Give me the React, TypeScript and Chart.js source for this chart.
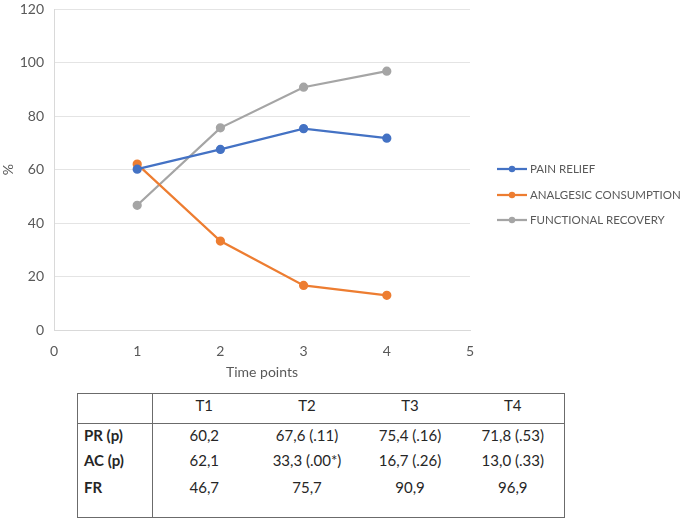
import React, { useEffect, useRef } from "react";
import { Chart, registerables } from "chart.js";

Chart.register(...registerables);

const timePoints = [1, 2, 3, 4];
const painRelief = [60.2, 67.6, 75.4, 71.8];
const analgesicConsumption = [62.1, 33.3, 16.7, 13.0];
const functionalRecovery = [46.7, 75.7, 90.9, 96.9];
const seriesNames = ["PAIN RELIEF", "ANALGESIC CONSUMPTION", "FUNCTIONAL RECOVERY"];
const seriesColors = ["#4472C4", "#ED7D31", "#A5A5A5"];

const tableHeader = ["", "T1", "T2", "T3", "T4"];
const tableRows = [
  ["PR (p)", "60,2", "67,6 (.11)", "75,4 (.16)", "71,8 (.53)"],
  ["AC (p)", "62,1", "33,3 (.00*)", "16,7 (.26)", "13,0 (.33)"],
  ["FR", "46,7", "75,7", "90,9", "96,9"],
];

const FONT = "Lato, 'Open Sans', sans-serif";
const TEXT = "#595959";

const legendPlugin = {
  id: "sideLegend",
  afterDraw(chart: any) {
    const ctx = chart.ctx;
    const area = chart.chartArea;
    const x0 = area.right + 27;
    const rows = [169, 195, 220];
    ctx.save();
    chart.data.datasets.forEach((ds: any, i: number) => {
      const y = rows[i];
      ctx.strokeStyle = ds.borderColor;
      ctx.lineWidth = 2.25;
      ctx.beginPath();
      ctx.moveTo(x0, y);
      ctx.lineTo(x0 + 30, y);
      ctx.stroke();
      ctx.fillStyle = ds.borderColor;
      ctx.beginPath();
      ctx.arc(x0 + 15, y, 3.2, 0, Math.PI * 2);
      ctx.fill();
      ctx.fillStyle = TEXT;
      ctx.font = `11.5px ${FONT}`;
      ctx.textBaseline = "middle";
      ctx.textAlign = "left";
      ctx.fillText(ds.label, x0 + 33, y);
    });
    ctx.restore();
  },
};

function LineChart() {
  const ref = useRef<HTMLCanvasElement>(null);
  useEffect(() => {
    if (!ref.current) return;
    const mk = (vals: number[]) => vals.map((v, i) => ({ x: timePoints[i], y: v }));
    const data = [painRelief, analgesicConsumption, functionalRecovery];
    const chart = new Chart(ref.current, {
      type: "line",
      data: {
        datasets: data.map((vals, i) => ({
          label: seriesNames[i],
          data: mk(vals),
          borderColor: seriesColors[i],
          backgroundColor: seriesColors[i],
          borderWidth: 2.25,
          pointRadius: 3.5,
          pointHoverRadius: 3.5,
          tension: 0,
        })),
      },
      plugins: [legendPlugin],
      options: {
        animation: false,
        responsive: false,
        maintainAspectRatio: false,
        layout: { padding: { top: 9.5, right: 215, left: 0, bottom: 0 } },
        plugins: { legend: { display: false }, tooltip: { enabled: false } },
        scales: {
          x: {
            type: "linear",
            min: 0,
            max: 5,
            ticks: { stepSize: 1, color: TEXT, font: { family: FONT, size: 14 }, padding: 5 },
            grid: { display: false },
            border: { display: true, color: "#D9D9D9", width: 1 },
            title: { display: true, text: "Time points", color: TEXT, font: { family: FONT, size: 14 }, padding: { top: 4 } },
            afterFit: (s: any) => { s.height = 55; },
          },
          y: {
            min: 0,
            max: 120,
            ticks: { stepSize: 20, color: TEXT, font: { family: FONT, size: 14 }, padding: 10 },
            grid: { color: "#E4E4E4", drawTicks: false },
            border: { display: true, color: "#D9D9D9", width: 1 },
            title: { display: true, text: "%", color: TEXT, font: { family: FONT, size: 14 }, padding: 0 },
            afterFit: (s: any) => { s.width = 54; s.paddingTop = 0; s.paddingBottom = 0; },
          },
        },
      } as any,
    });
    return () => chart.destroy();
  }, []);
  return <canvas ref={ref} width={685} height={385} style={{ position: "absolute", left: 0, top: 0 }} />;
}

export default function App() {
  const BORDER = "1.5px solid #6b6b6b";
  const cellBase: React.CSSProperties = {
    textAlign: "center",
    padding: 0,
    fontSize: 15,
    lineHeight: "18px",
    color: "#262626",
    fontFamily: FONT,
    verticalAlign: "top",
  };
  const rowHeights = [25, 25, 44];
  const rowPadTop = [2, 2, 4];
  return (
    <div style={{ position: "absolute", left: 0, top: 0, width: 685, height: 518, background: "#fff", overflow: "hidden" }}>
      <LineChart />
      <table
        style={{
          position: "absolute",
          left: 77,
          top: 393,
          width: 487,
          height: 124,
          borderCollapse: "collapse",
          border: BORDER,
          tableLayout: "fixed",
        }}
      >
        <colgroup>
          <col style={{ width: 75 }} />
          <col style={{ width: 103 }} />
          <col style={{ width: 103 }} />
          <col style={{ width: 103 }} />
          <col style={{ width: 103 }} />
        </colgroup>
        <tbody>
          <tr style={{ height: 30, borderBottom: BORDER }}>
            {tableHeader.map((h, i) => (
              <td key={i} style={{ ...cellBase, paddingTop: 2, borderRight: i === 0 ? BORDER : undefined }}>{h}</td>
            ))}
          </tr>
          {tableRows.map((row, r) => (
            <tr key={r} style={{ height: rowHeights[r] }}>
              {row.map((c, i) => (
                <td
                  key={i}
                  style={{
                    ...cellBase,
                    textAlign: i === 0 ? "left" : "center",
                    paddingLeft: i === 0 ? 6 : 0,
                    fontWeight: i === 0 ? 700 : 400,
                    paddingTop: rowPadTop[r],
                    borderRight: i === 0 ? BORDER : undefined,
                  }}
                >
                  {c}
                </td>
              ))}
            </tr>
          ))}
        </tbody>
      </table>
    </div>
  );
}
